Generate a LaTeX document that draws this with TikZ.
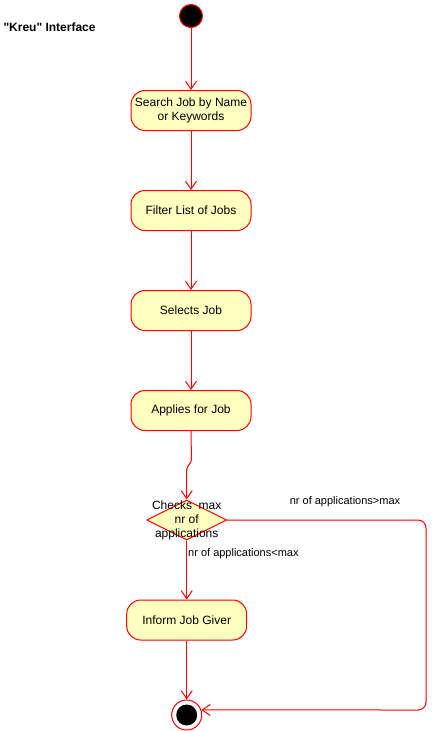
\documentclass[tikz,border=0pt]{standalone}
\usepackage{fontspec}
\setmainfont{Liberation Sans}[Ligatures=TeXOff]
\usetikzlibrary{arrows.meta,shapes.geometric}
\definecolor{actfill}{HTML}{FFFFC0}
\definecolor{umlred}{HTML}{FF0000}
\begin{document}
\begin{tikzpicture}[x=1pt,y=-1pt,
  txt/.style={font=\fontsize{12}{14}\selectfont, text=black},
  small/.style={font=\fontsize{11}{13}\selectfont, text=black},
  act/.style={draw=umlred, fill=actfill, line width=1pt, rounded corners=14pt,
    minimum width=120pt, minimum height=40pt, inner sep=0pt, align=center, txt},
  dec/.style={draw=umlred, fill=actfill, line width=1pt, shape=diamond,
    minimum width=80pt, minimum height=40pt, inner sep=0pt},
  startn/.style={circle, draw=umlred, fill=black, line width=1pt, minimum size=23pt, inner sep=0pt},
  endo/.style={circle, draw=umlred, fill=white, line width=1pt, minimum size=30pt, inner sep=0pt},
  endi/.style={circle, fill=black, minimum size=21pt, inner sep=0pt},
  flow/.style={draw=umlred, line width=1pt, -{Straight Barb[length=8pt,width=11pt]}}
]
\useasboundingbox (0,0) rectangle (437,731);

\node[anchor=west, font=\fontsize{12}{14}\selectfont\bfseries] (title) at (0,27) {"Kreu" Interface};

\node[startn] (start) at (191,16) {};
\node[act] (search) at (191,110.5) {Search Job by Name\\or Keywords};
\node[act] (filter) at (191,210.5) {Filter List of Jobs};
\node[act] (select) at (191,310.5) {Selects Job};
\node[act] (apply) at (191,410.5) {Applies for Job};
\node[dec, label={[txt, align=center, inner sep=0pt]center:Checks\ \ max\\nr of\\applications}] (check) at (186.7,520) {};
\node[act] (inform) at (186.7,620) {Inform Job Giver};
\node[endo] (endo) at (186.7,715) {};
\node[endi] (endi) at (186.7,715) {};

\coordinate (j1) at (191.5,462);
\coordinate (j2) at (186.7,467);
\coordinate (r1) at (426,520);
\coordinate (r2) at (426,710);

\draw[flow] (start) -- (search);
\draw[flow] (search) -- (filter);
\draw[flow] (filter) -- (select);
\draw[flow] (select) -- (apply);
\draw[flow, rounded corners=3pt] (apply.south) -- (j1) -- (j2) -- (check.north);
\draw[flow] (check.south) -- (inform.north);
\draw[flow] (inform.south) -- (endo.north);
\draw[flow, rounded corners=8pt] (check.east) -- (r1) -- (r2) -- (endo.19.5);

\node[small] (lgt) at (345,502) {nr of applications>max};
\node[small, anchor=west, inner sep=0pt] (llt) at (188,553.3) {nr of applications<max};
\end{tikzpicture}
\end{document}
